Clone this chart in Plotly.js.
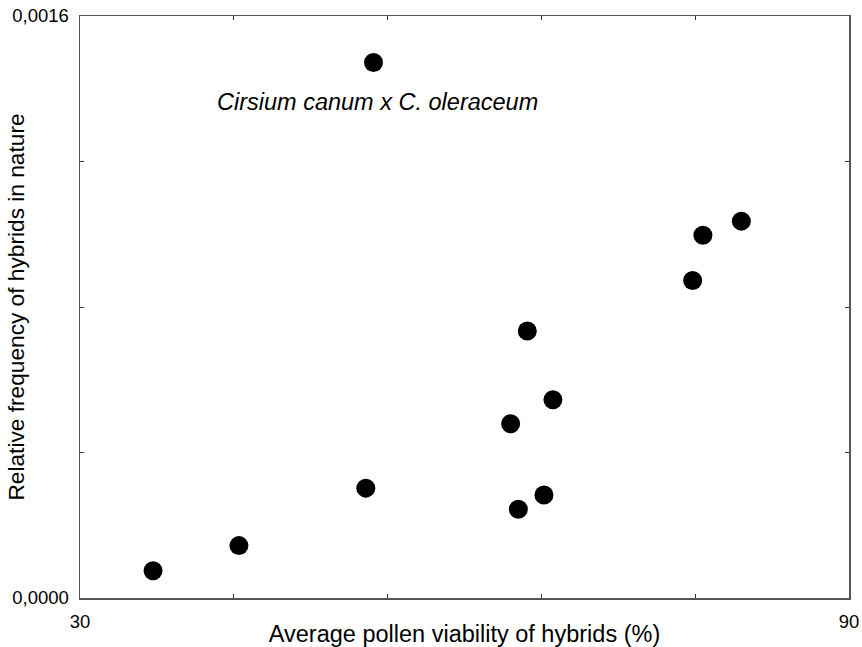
<!DOCTYPE html>
<html>
<head>
<meta charset="utf-8">
<script src="https://cdn.plot.ly/plotly-3.0.1.min.js"></script>
<style>html,body{margin:0;padding:0;background:#fff;}#chart{width:862px;height:647px;}</style>
</head>
<body>
<div id="chart"></div>
<script>
// Average pollen viability of hybrids (%)
var viability = [35.7, 42.4, 52.3, 52.9, 63.6, 64.2, 64.9, 66.2, 66.9, 77.8, 78.6, 81.6];
// Relative frequency of hybrids in nature
var frequency = [0.000075, 0.000144, 0.000302, 0.001472, 0.000479, 0.000244, 0.000734, 0.000283, 0.000545, 0.000873, 0.000997, 0.001036];

var xTickVals = [30, 42, 54, 66, 78, 90];
var xTickText = ['30', '', '', '', '', '90'];
var yTickVals = [0, 0.0004, 0.0008, 0.0012, 0.0016];
var yTickText = ['0,0000', '', '', '', '0,0016'];

var fontFam = '"Liberation Sans", Arial, sans-serif';

var trace = {
  x: viability,
  y: frequency,
  mode: 'markers',
  type: 'scatter',
  marker: {color: '#000', size: 19},
  hoverinfo: 'none'
};

var layout = {
  width: 862, height: 647,
  margin: {l: 80, r: 13, t: 16, b: 49},
  paper_bgcolor: '#fff', plot_bgcolor: '#fff',
  showlegend: false,
  font: {family: fontFam, color: '#000', size: 18},
  xaxis: {
    range: [30, 90], tickvals: xTickVals, ticktext: xTickText,
    ticks: 'inside', ticklen: 4, tickcolor: '#333', tickwidth: 1,
    showline: true, linecolor: '#555', linewidth: 1.5, mirror: 'ticks',
    showgrid: false, zeroline: false, ticklabelstandoff: 6,
    tickfont: {size: 18.5, family: fontFam},
    title: {text: 'Average pollen viability of hybrids (%)', font: {size: 23.5, family: fontFam}, standoff: 1}
  },
  yaxis: {
    range: [0, 0.0016], tickvals: yTickVals, ticktext: yTickText,
    ticks: 'inside', ticklen: 4, tickcolor: '#333', tickwidth: 1,
    showline: true, linecolor: '#555', linewidth: 1.5, mirror: 'ticks',
    showgrid: false, zeroline: false, ticklabelstandoff: 6,
    tickfont: {size: 18.5, family: fontFam},
    title: {text: 'Relative frequency of hybrids in nature', font: {size: 22.7, family: fontFam}}
  },
  annotations: [{
    x: 0.3875, y: 0.852, xref: 'paper', yref: 'paper',
    xanchor: 'center', yanchor: 'middle',
    text: '<i>Cirsium canum x C. oleraceum</i>',
    showarrow: false,
    font: {size: 23.5, family: fontFam, color: '#000'}
  }]
};

Plotly.newPlot('chart', [trace], layout, {displayModeBar: false, staticPlot: true});
</script>
</body>
</html>
